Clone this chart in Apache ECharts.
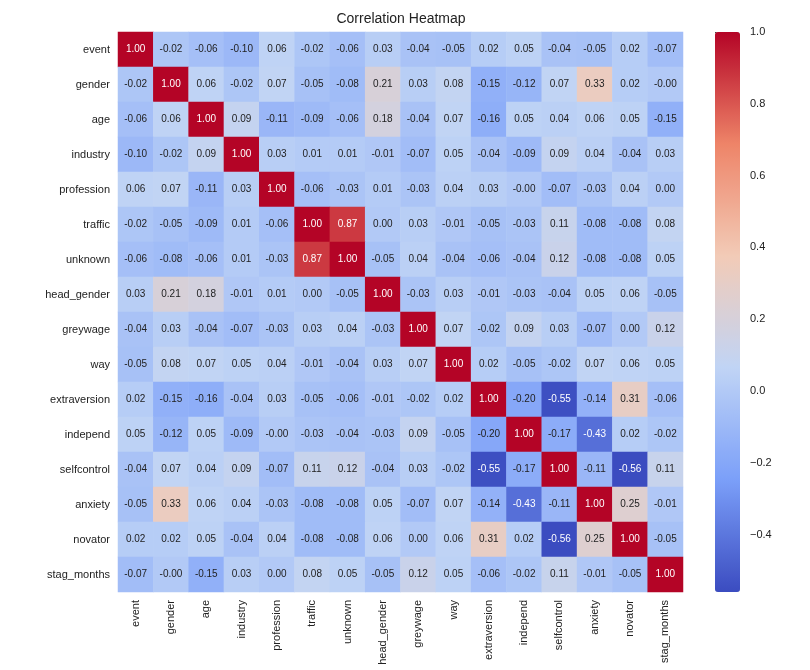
<!DOCTYPE html>
<html><head><meta charset="utf-8">
<script src="https://cdn.jsdelivr.net/npm/echarts@6/dist/echarts.min.js"></script>
<style>html,body{margin:0;padding:0;background:#fff}#c{width:810px;height:670px}</style>
</head><body><div id="c"></div>
<script>
const labels = ["event","gender","age","industry","profession","traffic","unknown","head_gender","greywage","way","extraversion","independ","selfcontrol","anxiety","novator","stag_months"];
const matrix = [
[1.00,-0.02,-0.06,-0.10,0.06,-0.02,-0.06,0.03,-0.04,-0.05,0.02,0.05,-0.04,-0.05,0.02,-0.07],
[-0.02,1.00,0.06,-0.02,0.07,-0.05,-0.08,0.21,0.03,0.08,-0.15,-0.12,0.07,0.33,0.02,-0.00],
[-0.06,0.06,1.00,0.09,-0.11,-0.09,-0.06,0.18,-0.04,0.07,-0.16,0.05,0.04,0.06,0.05,-0.15],
[-0.10,-0.02,0.09,1.00,0.03,0.01,0.01,-0.01,-0.07,0.05,-0.04,-0.09,0.09,0.04,-0.04,0.03],
[0.06,0.07,-0.11,0.03,1.00,-0.06,-0.03,0.01,-0.03,0.04,0.03,-0.00,-0.07,-0.03,0.04,0.00],
[-0.02,-0.05,-0.09,0.01,-0.06,1.00,0.87,0.00,0.03,-0.01,-0.05,-0.03,0.11,-0.08,-0.08,0.08],
[-0.06,-0.08,-0.06,0.01,-0.03,0.87,1.00,-0.05,0.04,-0.04,-0.06,-0.04,0.12,-0.08,-0.08,0.05],
[0.03,0.21,0.18,-0.01,0.01,0.00,-0.05,1.00,-0.03,0.03,-0.01,-0.03,-0.04,0.05,0.06,-0.05],
[-0.04,0.03,-0.04,-0.07,-0.03,0.03,0.04,-0.03,1.00,0.07,-0.02,0.09,0.03,-0.07,0.00,0.12],
[-0.05,0.08,0.07,0.05,0.04,-0.01,-0.04,0.03,0.07,1.00,0.02,-0.05,-0.02,0.07,0.06,0.05],
[0.02,-0.15,-0.16,-0.04,0.03,-0.05,-0.06,-0.01,-0.02,0.02,1.00,-0.20,-0.55,-0.14,0.31,-0.06],
[0.05,-0.12,0.05,-0.09,-0.00,-0.03,-0.04,-0.03,0.09,-0.05,-0.20,1.00,-0.17,-0.43,0.02,-0.02],
[-0.04,0.07,0.04,0.09,-0.07,0.11,0.12,-0.04,0.03,-0.02,-0.55,-0.17,1.00,-0.11,-0.56,0.11],
[-0.05,0.33,0.06,0.04,-0.03,-0.08,-0.08,0.05,-0.07,0.07,-0.14,-0.43,-0.11,1.00,0.25,-0.01],
[0.02,0.02,0.05,-0.04,0.04,-0.08,-0.08,0.06,0.00,0.06,0.31,0.02,-0.56,0.25,1.00,-0.05],
[-0.07,-0.00,-0.15,0.03,0.00,0.08,0.05,-0.05,0.12,0.05,-0.06,-0.02,0.11,-0.01,-0.05,1.00]
];
const barTicks = [-0.4,-0.2,0.0,0.2,0.4,0.6,0.8,1.0];
const data = [];
matrix.forEach((row,i)=>row.forEach((v,j)=>{
  data.push({value:[j,i,v],txt:(Object.is(v,-0)?'-0.00':v.toFixed(2)),label:{color:(v>0.6||v<-0.3)?'#fff':'#222'}});
}));
const chart = echarts.init(document.getElementById('c'));
chart.setOption({
  animation:false,
  title:{text:'Correlation Heatmap',left:396,top:7,textAlign:'center',textStyle:{fontSize:14,fontWeight:'normal',color:'#222'}},
  grid:[{left:118,top:32,width:565,height:560},{left:715,top:32,width:25,height:560}],
  xAxis:[{type:'category',data:labels,gridIndex:0,axisLine:{show:false},axisTick:{length:4,alignWithLabel:true,lineStyle:{color:'#333'}},
    axisLabel:{rotate:90,fontSize:11,color:'#222',interval:0},splitLine:{show:false}},
    {type:'value',gridIndex:1,show:false}],
  yAxis:[{type:'category',data:labels,inverse:true,gridIndex:0,axisLine:{show:false},axisTick:{length:4,alignWithLabel:true,lineStyle:{color:'#333'}},
    axisLabel:{fontSize:11,color:'#222',interval:0}},
    {type:'value',gridIndex:1,position:'right',min:-0.56,max:1,axisLine:{show:false},splitLine:{show:false},
     axisTick:{show:true,length:4,customValues:barTicks,lineStyle:{color:'#333'}},
     axisLabel:{fontSize:11,color:'#222',margin:10,customValues:barTicks,formatter:v=>v.toFixed(1).replace('-','−')}}],
  visualMap:{type:'continuous',min:-0.56,max:1,show:true,calculable:false,seriesIndex:0,left:710,top:27,padding:5,
    itemWidth:25,itemHeight:560,text:['',''],showLabel:false,textStyle:{color:'transparent'},
    inRange:{color:['#3b4cc0','#7b9ff9','#c0d4f5','#f2cbb7','#ee8468','#b40426']}},
  series:[{type:'heatmap',xAxisIndex:0,yAxisIndex:0,data:data,
    label:{show:true,fontSize:10,formatter:p=>p.data.txt},
    itemStyle:{borderWidth:0},emphasis:{disabled:true}}]
});
</script></body></html>
